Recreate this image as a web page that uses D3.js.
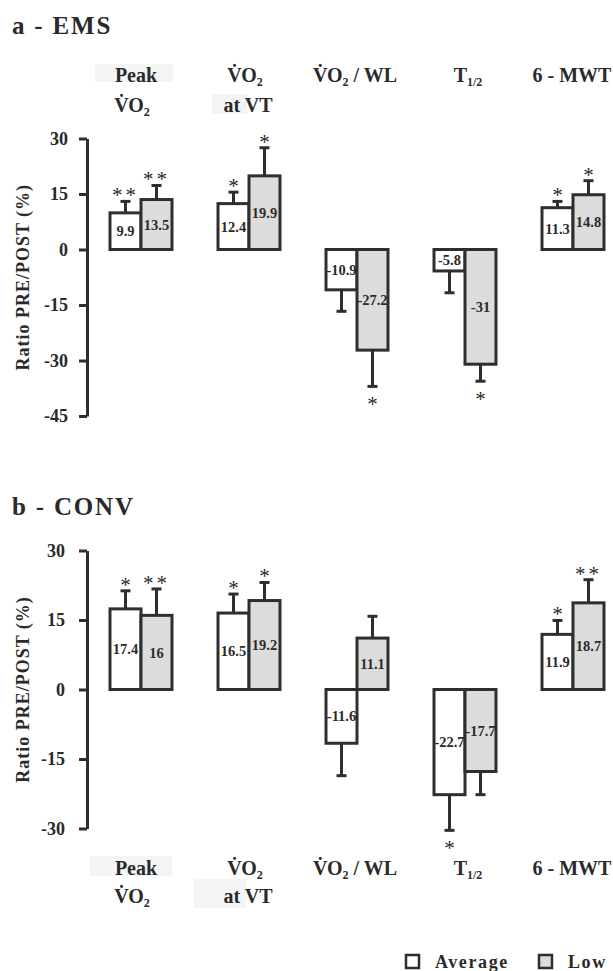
<!DOCTYPE html>
<html>
<head>
<meta charset="utf-8">
<script src="https://cdn.jsdelivr.net/npm/d3@7"></script>
<style>
  html, body { margin: 0; padding: 0; background: #ffffff; }
  svg { display: block; }
  text { font-family: "Liberation Serif", "Times New Roman", serif; fill: #2a2a2a; }
</style>
</head>
<body>
<script>
// ---------------- DATA ----------------
const categories = ["Peak VO2", "VO2 at VT", "VO2 / WL", "T1/2", "6-MWT"];
const categoryLines = [
  ["Peak", "V\u0307O_{2}"],
  ["V\u0307O_{2}", "at VT"],
  ["V\u0307O_{2} / WL"],
  ["T_{1/2}"],
  ["6 - MWT"]
];
const groups = ["Average", "Low"];

// a - EMS
const emsAverage = [9.9, 12.4, -10.9, -5.8, 11.3];
const emsLow = [13.5, 19.9, -27.2, -31, 14.8];
const emsAverageErr = [3.1, 3.1, 5.8, 5.9, 1.7];
const emsLowErr = [3.8, 7.6, 9.8, 4.6, 3.8];
const emsAverageSig = ["**", "*", "", "", "*"];
const emsLowSig = ["**", "*", "*", "*", "*"];
const emsTicks = [30, 15, 0, -15, -30, -45];

// b - CONV
const convAverage = [17.4, 16.5, -11.6, -22.7, 11.9];
const convLow = [16, 19.2, 11.1, -17.7, 18.7];
const convAverageErr = [3.9, 4.1, 7.0, 7.7, 3.0];
const convLowErr = [5.7, 3.9, 4.7, 5.0, 5.0];
const convAverageSig = ["*", "*", "", "*", "*"];
const convLowSig = ["**", "*", "", "", "**"];
const convTicks = [30, 15, 0, -15, -30];

// ---------------- DRAWING ----------------
const W = 613, H = 971;
const INK = "#2e2e2e";
const GREY = "#dcdcdc";
const svg = d3.select("body").append("svg").attr("width", W).attr("height", H);

const x = d3.scaleBand().domain(d3.range(categories.length)).range([87, 627])
  .paddingInner(0.426).paddingOuter(0.213);
const xs = d3.scaleBand().domain(groups).range([0, x.bandwidth()]);
const center = i => x(i) + x.bandwidth() / 2;

function richText(sel, str, size) {
  const parts = str.split(/(_\{[^}]*\})/).filter(s => s.length);
  let sub = false;
  parts.forEach(p => {
    if (p.startsWith("_{")) {
      sel.append("tspan").attr("font-size", Math.round(size * 0.62)).attr("dy", size * 0.22).text(p.slice(2, -1));
      sub = true;
    } else {
      const t = sel.append("tspan").text(p);
      if (sub) { t.attr("dy", -size * 0.22); sub = false; }
    }
  });
}

function drawPanel(cfg) {
  const g = svg.append("g");
  const y = d3.scaleLinear().domain(cfg.domain).range(cfg.range);

  // title
  g.append("text").attr("x", 12).attr("y", cfg.titleY)
    .attr("font-size", 25).attr("font-weight", "bold").attr("letter-spacing", 1.8)
    .text(cfg.title);

  // faint label highlight boxes
  cfg.boxes.forEach(b => {
    g.append("rect").attr("x", center(b.i) + b.dx).attr("y", b.y)
      .attr("width", b.w).attr("height", b.h).attr("fill", "#f4f4f4");
  });

  // category labels
  const labelDx = [[-5, -9], [-4, -1], [-2], [3], [-1]];
  categoryLines.forEach((lines, i) => {
    lines.forEach((ln, k) => {
      const t = g.append("text")
        .attr("x", center(i) + labelDx[i][k])
        .attr("y", cfg.labelY[k])
        .attr("text-anchor", "middle")
        .attr("font-size", 20).attr("font-weight", "bold");
      richText(t, ln, 20);
    });
  });

  // axis
  const axis = d3.axisLeft(y).tickValues(cfg.ticks).tickSize(8).tickSizeOuter(0)
    .tickPadding(cfg.tickPad).tickFormat(d => String(d));
  const ax = g.append("g").attr("transform", "translate(87,0)").call(axis);
  ax.select(".domain").attr("stroke", INK).attr("stroke-width", 3);
  ax.selectAll(".tick line").attr("stroke", INK).attr("stroke-width", 3);
  ax.selectAll(".tick text").attr("fill", "#2a2a2a")
    .attr("font-family", "Liberation Serif, Times New Roman, serif")
    .attr("font-size", 18).attr("font-weight", "bold");

  // y label
  const ymid = (cfg.range[0] + cfg.range[1]) / 2;
  g.append("text").attr("transform", `translate(29,${ymid}) rotate(-90)`)
    .attr("text-anchor", "middle").attr("font-size", 18).attr("font-weight", "bold")
    .attr("letter-spacing", 1)
    .text("Ratio PRE/POST (%)");

  const series = [
    { key: "Average", vals: cfg.avg, err: cfg.avgErr, sig: cfg.avgSig, fill: "#ffffff" },
    { key: "Low", vals: cfg.low, err: cfg.lowErr, sig: cfg.lowSig, fill: GREY }
  ];

  series.forEach(s => {
    s.vals.forEach((v, i) => {
      const bx = x(i) + xs(s.key);
      const bw = xs.bandwidth();
      const cx = bx + bw / 2;
      const y0 = y(0), yv = y(v);
      const e = v >= 0 ? v + s.err[i] : v - s.err[i];
      const ye = y(e);
      // error bar
      g.append("line").attr("x1", cx).attr("x2", cx).attr("y1", yv).attr("y2", ye)
        .attr("stroke", INK).attr("stroke-width", 3);
      g.append("line").attr("x1", cx - 5).attr("x2", cx + 5).attr("y1", ye).attr("y2", ye)
        .attr("stroke", INK).attr("stroke-width", 3);
      // bar
      g.append("rect").attr("x", bx).attr("width", bw)
        .attr("y", Math.min(y0, yv)).attr("height", Math.abs(yv - y0))
        .attr("fill", s.fill).attr("stroke", INK).attr("stroke-width", 3);
      // significance
      if (s.sig[i]) {
        g.append("text").attr("x", cx).attr("y", v >= 0 ? ye + 1 : ye + 25)
          .attr("text-anchor", "middle").attr("font-size", 21)
          .attr("letter-spacing", s.sig[i].length > 1 ? 3 : 0)
          .text(s.sig[i]);
      }
    });
  });
  // value labels on top
  series.forEach(s => {
    s.vals.forEach((v, i) => {
      const bx = x(i) + xs(s.key);
      const cx = bx + xs.bandwidth() / 2;
      g.append("text").attr("x", cx).attr("y", (y(0) + y(v)) / 2)
        .attr("dy", "0.35em").attr("text-anchor", "middle")
        .attr("font-size", 14.5).attr("font-weight", "bold")
        .text(String(v));
    });
  });
}

drawPanel({
  title: "a - EMS", titleY: 34,
  domain: [-45, 30], range: [416, 138.5], ticks: emsTicks, tickPad: 11,
  avg: emsAverage, low: emsLow, avgErr: emsAverageErr, lowErr: emsLowErr,
  avgSig: emsAverageSig, lowSig: emsLowSig,
  labelY: [82, 112],
  boxes: [{ i: 0, dx: -46, y: 64, w: 78, h: 18 }, { i: 1, dx: -37, y: 94, w: 35, h: 20 }]
});

drawPanel({
  title: "b - CONV", titleY: 515,
  domain: [-30, 30], range: [828.5, 550.5], ticks: convTicks, tickPad: 14,
  avg: convAverage, low: convLow, avgErr: convAverageErr, lowErr: convLowErr,
  avgSig: convAverageSig, lowSig: convLowSig,
  labelY: [875, 903],
  boxes: [{ i: 0, dx: -51, y: 856, w: 82, h: 20 }, { i: 1, dx: -55, y: 879, w: 52, h: 29 }]
});

// legend
const legend = svg.append("g");
const legendX = [406, 539];
groups.forEach((gname, k) => {
  legend.append("rect").attr("x", legendX[k]).attr("y", 955).attr("width", 13).attr("height", 13)
    .attr("fill", k === 0 ? "#ffffff" : GREY).attr("stroke", INK).attr("stroke-width", 2.5);
  legend.append("text").attr("x", legendX[k] + 29).attr("y", 968)
    .attr("font-size", 18).attr("font-weight", "bold").attr("letter-spacing", 1.6)
    .text(gname);
});
</script>
</body>
</html>
